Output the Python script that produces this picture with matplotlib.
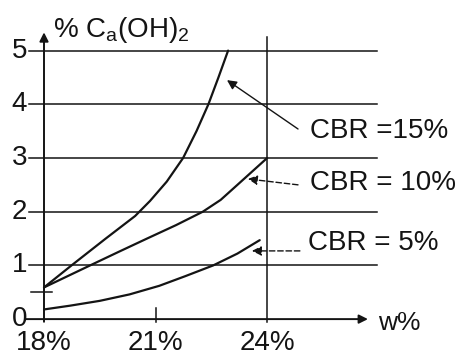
import numpy as np
import matplotlib
matplotlib.use('Agg')
import matplotlib.pyplot as plt

plt.rcParams['font.family'] = ['Liberation Sans', 'DejaVu Sans']
plt.rcParams['mathtext.fontset'] = 'custom'
plt.rcParams['mathtext.rm'] = 'Liberation Sans'
###############################################################################
# Data
###############################################################################
w15 = [18.0, 18.74, 19.66, 20.45, 20.85, 21.3, 21.74, 22.1, 22.42, 22.69, 22.95]
c15 = [0.59, 1.0, 1.5, 1.92, 2.2, 2.56, 3.0, 3.5, 4.0, 4.5, 5.0]
w10 = [18.0, 19.24, 20.0, 20.77, 21.55, 22.27, 22.75, 23.2, 24.0]
c10 = [0.59, 1.0, 1.25, 1.5, 1.75, 2.0, 2.22, 2.5, 3.0]
w05 = [18.0, 18.7, 19.5, 20.3, 21.1, 21.8, 22.55, 23.2, 23.8]
c05 = [0.18, 0.25, 0.34, 0.46, 0.62, 0.8, 1.0, 1.22, 1.47]
yTicks = [0, 1, 2, 3, 4, 5]
xTicks = [18, 21, 24]
xLabels = ['18%', '21%', '24%']
cbrLabels = ['CBR =15%', 'CBR = 10%', 'CBR = 5%']
###############################################################################
# Plot
###############################################################################
INK = '#141414'
(fig, ax) = plt.subplots(figsize=(4.68, 3.56), dpi=100)
ax.set_position([0, 0, 1, 1])
ax.set_xlim(16.817, 29.40)
ax.set_ylim(-0.687, 5.942)
ax.axis('off')
# Grid lines and ticks --------------------------------------------------------
for v in yTicks[1:]:
    ax.plot([17.6, 26.95], [v, v], color=INK, lw=1.1)
ax.plot([17.65, 18.22], [0.5, 0.5], color=INK, lw=1.1)
ax.plot([21, 21], [-0.05, 0.2], color=INK, lw=1.1)
ax.plot([24, 24], [-0.05, 5.25], color=INK, lw=1.1)
# Axes with arrows ------------------------------------------------------------
ax.annotate('', xy=(26.71, 0), xytext=(17.5, 0),
    arrowprops=dict(arrowstyle='-|>', color=INK, lw=1.4, mutation_scale=13,
                    shrinkA=0, shrinkB=0))
ax.annotate('', xy=(18, 5.34), xytext=(18, -0.05),
    arrowprops=dict(arrowstyle='-|>', color=INK, lw=1.4, mutation_scale=13,
                    shrinkA=0, shrinkB=0))
# Curves ----------------------------------------------------------------------
for (wx, cy) in [(w15, c15), (w10, c10), (w05, c05)]:
    ax.plot(wx, cy, color=INK, lw=1.6, solid_capstyle='round',
            solid_joinstyle='round')
# Tick labels -----------------------------------------------------------------
for v in yTicks:
    ax.text(17.55, v, str(v), ha='right', va='center', fontsize=20, color=INK)
for (t, l) in zip(xTicks, xLabels):
    ax.text(t, -0.45, l, ha='center', va='center', fontsize=20, color=INK)
ax.text(18.24, 5.38, r'% C$_\mathregular{a}$(OH)$_\mathregular{2}$',
        ha='left', va='center', fontsize=20, color=INK)
ax.text(26.98, -0.07, 'w%', ha='left', va='center', fontsize=19, color=INK)
# Curve labels with arrows ----------------------------------------------------
tails = [(24.83, 3.54), (24.83, 2.50), (24.88, 1.27)]
heads = [(22.92, 4.45), (23.48, 2.61), (23.59, 1.27)]
txtPos = [(25.15, 3.50), (25.15, 2.53), (25.10, 1.42)]
styles = ['-', (0, (4, 2)), (0, (4, 2))]
for (lab, tl, hd, tp, ls) in zip(cbrLabels, tails, heads, txtPos, styles):
    ax.annotate('', xy=hd, xytext=tl,
        arrowprops=dict(arrowstyle='-|>', color=INK, lw=1.0, ls=ls,
                        mutation_scale=14, shrinkA=0, shrinkB=0))
    ax.text(tp[0], tp[1], lab, ha='left', va='center', fontsize=20, color=INK)

fig.savefig('out.png', dpi=100)
plt.close(fig)
